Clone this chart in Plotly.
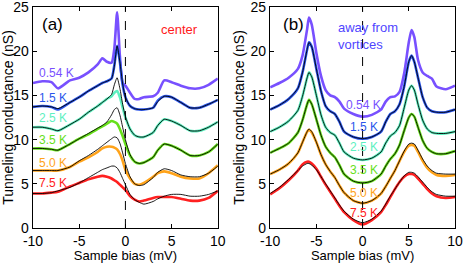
import plotly.graph_objects as go

# ---------------- data ----------------
temps = ["0.54 K", "1.5 K", "2.5 K", "3.5 K", "5.0 K", "7.5 K"]
colors = ["#7850ff", "#2a55ec", "#5ef0c0", "#66e01a", "#ffa31a", "#ff2020"]

# panel (a): center of vortex
xa = [-10, -9, -8, -7.3, -6, -5, -4, -3, -2.5, -2, -1.5, -1.2, -0.9, -0.6, -0.3,
      0, 0.5, 1, 1.5, 2, 3, 3.5, 4.2, 5, 6, 7, 8, 9, 10]
a_054 = [16.4, 16.6, 16.5, 15.8, 16.7, 17.0, 17.6, 18.5, 19.2, 18.8, 18.7, 20.3, 24.4, 19.5, 16.4,
         16.1, 15.3, 14.6, 14.6, 14.8, 14.9, 15.3, 16.7, 16.5, 16.1, 15.8, 15.8, 16.2, 16.9]
a_15 = [13.7, 13.8, 13.7, 13.4, 14.2, 14.8, 15.5, 16.1, 16.4, 16.6, 16.9, 18.4, 20.6, 18.8, 16.2,
        14.8, 13.8, 13.5, 13.4, 13.4, 13.6, 14.4, 14.9, 14.8, 14.2, 13.6, 13.6, 14.0, 14.5]
a_25 = [11.4, 11.4, 11.2, 11.0, 11.7, 12.3, 13.1, 13.8, 14.2, 14.6, 14.9, 15.3, 15.5, 14.8, 13.6,
        12.5, 11.2, 10.5, 10.3, 10.3, 10.8, 11.6, 12.3, 12.1, 11.6, 11.0, 11.0, 11.4, 12.0]
a_35 = [9.0, 9.0, 8.9, 8.8, 9.5, 10.1, 10.6, 11.2, 11.5, 11.8, 12.1, 12.0, 11.8, 11.2, 10.4,
        9.5, 8.2, 7.5, 7.3, 7.4, 8.0, 8.8, 9.5, 9.3, 8.8, 8.2, 8.2, 8.6, 9.5]
a_50 = [6.5, 6.5, 6.5, 6.5, 6.9, 7.5, 8.0, 8.6, 9.0, 9.2, 9.2, 9.1, 8.9, 8.4, 7.6,
        6.6, 5.6, 5.0, 4.9, 5.1, 5.8, 6.2, 6.4, 6.2, 5.8, 5.6, 5.6, 6.2, 7.1]
a_75 = [3.9, 3.9, 4.0, 4.1, 4.7, 5.1, 5.5, 5.8, 5.9, 5.8, 5.6, 5.4, 5.2, 4.9, 4.6,
        4.3, 3.6, 3.2, 3.0, 3.1, 3.4, 3.5, 3.5, 3.5, 3.3, 3.1, 3.1, 3.4, 4.2]

fa_15 = [13.7, 13.8, 13.7, 13.5, 14.2, 14.8, 15.5, 16.1, 16.4, 16.6, 16.9, 18.3, 20.6, 18.8, 16.3,
         14.8, 13.8, 13.5, 13.4, 13.4, 13.6, 14.3, 14.9, 14.8, 14.2, 13.6, 13.6, 14.0, 14.5]
fa_25 = [11.4, 11.4, 11.2, 11.0, 11.7, 12.3, 13.1, 13.8, 14.2, 14.6, 15.1, 16.2, 17.0, 15.8, 14.0,
         12.6, 11.2, 10.5, 10.3, 10.3, 10.8, 11.6, 12.3, 12.1, 11.6, 11.0, 11.0, 11.4, 12.0]
fa_35 = [9.0, 9.0, 8.9, 8.8, 9.5, 10.1, 10.7, 11.3, 11.6, 12.0, 12.8, 13.4, 13.6, 12.8, 11.4,
         10.0, 8.3, 7.5, 7.3, 7.4, 8.0, 8.8, 9.5, 9.3, 8.8, 8.2, 8.2, 8.6, 9.5]
fa_50 = [6.5, 6.5, 6.5, 6.5, 6.9, 7.6, 8.2, 8.9, 9.3, 9.7, 10.1, 10.3, 10.2, 9.6, 8.5,
         7.3, 5.8, 5.0, 4.8, 4.9, 5.7, 6.3, 6.7, 6.5, 6.0, 5.8, 5.8, 6.2, 7.0]
fa_75 = [3.9, 3.9, 4.0, 4.2, 4.6, 5.1, 5.7, 6.3, 6.6, 6.8, 7.0, 7.0, 6.8, 6.3, 5.6,
         4.9, 3.8, 3.2, 2.9, 2.7, 3.0, 3.3, 3.6, 3.8, 3.8, 3.6, 3.6, 3.8, 4.2]

# panel (b): away from vortices
xb = [-10, -9, -8, -7, -6.5, -6, -5.8, -5.5, -5, -4.5, -4, -3.5, -3, -2.5, -2, -1,
      0, 1, 2, 2.5, 3, 3.5, 4, 4.5, 5, 5.3, 5.6, 6, 6.5, 7, 7.5, 8, 9, 10]
b_054 = [15.9, 16.4, 17.0, 18.0, 19.5, 22.5, 23.8, 23.0, 19.8, 17.2, 15.6, 15.0, 14.8, 14.3, 13.5, 12.9,
         12.6, 12.8, 13.4, 14.3, 14.8, 14.9, 15.4, 17.5, 21.0, 22.4, 21.6, 19.0, 17.6, 17.2, 16.9, 16.0, 15.7, 16.1]
b_15 = [13.4, 13.9, 14.6, 15.8, 17.6, 20.2, 21.0, 20.5, 18.0, 15.5, 13.8, 13.2, 12.9, 12.0, 10.9, 10.3,
        10.1, 10.3, 10.9, 12.0, 12.9, 13.2, 14.0, 16.0, 18.8, 19.5, 18.8, 17.0, 14.8, 13.6, 13.2, 13.1, 13.1, 13.4]
b_25 = [10.9, 11.4, 12.1, 13.3, 14.9, 17.0, 17.6, 17.1, 15.0, 12.8, 11.4, 10.8, 10.5, 9.6, 8.6, 7.9,
        7.7, 7.9, 8.6, 9.6, 10.4, 10.8, 11.6, 13.6, 15.6, 16.1, 15.6, 14.0, 12.2, 11.2, 10.8, 10.7, 10.7, 10.9]
b_35 = [8.5, 9.0, 9.6, 10.8, 12.2, 14.0, 14.5, 14.0, 12.3, 10.5, 9.2, 8.5, 8.0, 7.1, 6.1, 5.3,
        5.1, 5.3, 6.1, 7.0, 7.8, 8.4, 9.4, 11.0, 12.5, 12.9, 12.6, 11.4, 9.9, 9.0, 8.6, 8.4, 8.4, 8.7]
b_50 = [6.1, 6.6, 7.3, 8.5, 9.7, 10.9, 11.1, 10.8, 9.7, 8.3, 7.2, 6.4, 5.7, 4.8, 4.0, 3.1,
        2.8, 3.1, 3.9, 4.7, 5.6, 6.5, 7.6, 8.6, 9.3, 9.4, 9.3, 8.6, 7.6, 6.8, 6.3, 6.0, 5.9, 6.0]
b_75 = [3.8, 4.5, 5.4, 6.5, 7.2, 7.5, 7.5, 7.3, 6.7, 5.8, 4.9, 4.1, 3.3, 2.5, 1.8, 0.9,
        0.4, 0.9, 1.8, 2.6, 3.5, 4.4, 5.2, 5.8, 6.1, 6.1, 6.0, 5.6, 5.0, 4.4, 3.9, 3.6, 3.4, 3.5]

fb_50 = [6.1, 6.6, 7.3, 8.5, 9.7, 10.9, 11.2, 10.9, 9.7, 8.3, 7.2, 6.4, 5.7, 4.8, 4.0, 3.1,
         2.8, 3.1, 3.9, 4.7, 5.6, 6.5, 7.6, 8.7, 9.5, 9.6, 9.5, 8.8, 7.8, 7.0, 6.5, 6.2, 6.1, 6.1]
fb_75 = [3.9, 4.6, 5.5, 6.5, 7.0, 7.3, 7.3, 7.1, 6.6, 5.8, 5.0, 4.2, 3.4, 2.6, 1.9, 1.0,
         0.6, 1.0, 1.9, 2.7, 3.6, 4.4, 5.2, 5.9, 6.3, 6.3, 6.2, 5.8, 5.2, 4.6, 4.1, 3.8, 3.6, 3.6]

# label positions (data coords)
lab_a_y = [17.5, 14.7, 12.4, 10.0, 7.3, 5.1]
lab_b_y = [13.9, 11.4, 9.2, 6.6, 4.0, 1.7]

tick_vals_x = [-10, -5, 0, 5, 10]
tick_text_x = ["-10", "-5", "0", "5", "10"]
tick_vals_y = [0, 5, 10, 15, 20, 25]

# ---------------- figure ----------------
fig = go.Figure()
data_a = [a_054, a_15, a_25, a_35, a_50, a_75]
fits_a = [fa_15, fa_25, fa_35, fa_50, fa_75]
data_b = [b_054, b_15, b_25, b_35, b_50, b_75]
fits_b = [b_15, b_25, b_35, fb_50, fb_75]

for ys, c in zip(data_a, colors):
    fig.add_trace(go.Scatter(x=xa, y=ys, mode="lines", line=dict(color=c, width=2.6, shape="spline", smoothing=0.6),
                             xaxis="x", yaxis="y", showlegend=False, hoverinfo="skip"))
for ys in fits_a:
    fig.add_trace(go.Scatter(x=xa, y=ys, mode="lines", line=dict(color="black", width=0.9, shape="spline", smoothing=0.6),
                             xaxis="x", yaxis="y", showlegend=False, hoverinfo="skip"))
for ys, c in zip(data_b, colors):
    fig.add_trace(go.Scatter(x=xb, y=ys, mode="lines", line=dict(color=c, width=2.6, shape="spline", smoothing=0.6),
                             xaxis="x2", yaxis="y2", showlegend=False, hoverinfo="skip"))
for ys in fits_b:
    fig.add_trace(go.Scatter(x=xb, y=ys, mode="lines", line=dict(color="black", width=0.9, shape="spline", smoothing=0.6),
                             xaxis="x2", yaxis="y2", showlegend=False, hoverinfo="skip"))

FONT = "Liberation Sans, Arial, sans-serif"
ax_common = dict(showline=True, linecolor="black", linewidth=1.3, mirror="ticks", ticks="inside",
                 ticklen=4, tickwidth=1.2, tickcolor="black", showgrid=False, zeroline=False,
                 automargin=False, ticklabeloverflow="allow",
                 tickfont=dict(family=FONT, size=14, color="black"))

fig.update_layout(
    template="none",
    width=463, height=263,
    margin=dict(l=33, r=8, t=7, b=35),
    paper_bgcolor="white", plot_bgcolor="white",
    font=dict(family=FONT, size=14, color="black"),
    xaxis=dict(domain=[0, 0.438], range=[-10, 10], tickvals=tick_vals_x, ticktext=tick_text_x,
               title=dict(text="Sample bias (mV)", font=dict(size=13), standoff=3), anchor="y", **ax_common),
    yaxis=dict(domain=[0, 1], range=[0, 25], tickvals=tick_vals_y,
               title=dict(text="Tunneling conductance (nS)", font=dict(size=14), standoff=2), anchor="x", **ax_common),
    xaxis2=dict(domain=[0.562, 1], range=[-10, 10], tickvals=tick_vals_x, ticktext=tick_text_x,
                title=dict(text="Sample bias (mV)", font=dict(size=13), standoff=3), anchor="y2", **ax_common),
    yaxis2=dict(domain=[0, 1], range=[0, 25], tickvals=tick_vals_y,
                title=dict(text="Tunneling conductance (nS)", font=dict(size=14), standoff=2), anchor="x2", **ax_common),
)

# dashed zero-bias lines
for xr, yr in [("x", "y domain"), ("x2", "y2 domain")]:
    fig.add_shape(type="line", xref=xr, yref=yr, x0=0, x1=0, y0=0, y1=1,
                  line=dict(color="black", width=1, dash="dash"))

# panel labels
fig.add_annotation(text="(a)", xref="x", yref="y", x=-9.2, y=23.0, xanchor="left", showarrow=False,
                   font=dict(family=FONT, size=17, color="black"))
fig.add_annotation(text="(b)", xref="x2", yref="y2", x=-8.8, y=23.0, xanchor="left", showarrow=False,
                   font=dict(family=FONT, size=17, color="black"))
fig.add_annotation(text="center", xref="x", yref="y", x=5.9, y=22.5, showarrow=False,
                   font=dict(family=FONT, size=13, color="#ff1a1a"))
fig.add_annotation(text="away from<br>vortices", xref="x2", yref="y2", x=0.6, y=21.7, showarrow=False,
                   align="left", font=dict(family=FONT, size=13, color="#4f45ff"))

for t, c, yv in zip(temps, colors, lab_a_y):
    fig.add_annotation(text=t, xref="x", yref="y", x=-9.6, y=yv, xanchor="left", showarrow=False,
                       font=dict(family=FONT, size=12, color=c))
for t, c, yv in zip(temps, colors, lab_b_y):
    fig.add_annotation(text=t, xref="x2", yref="y2", x=0.1, y=yv, xanchor="center", showarrow=False,
                       font=dict(family=FONT, size=12, color=c))

fig.write_html("out.html", config={"displayModeBar": False, "staticPlot": True},
               post_script="document.body.style.margin='0';document.body.style.overflow='hidden';")
